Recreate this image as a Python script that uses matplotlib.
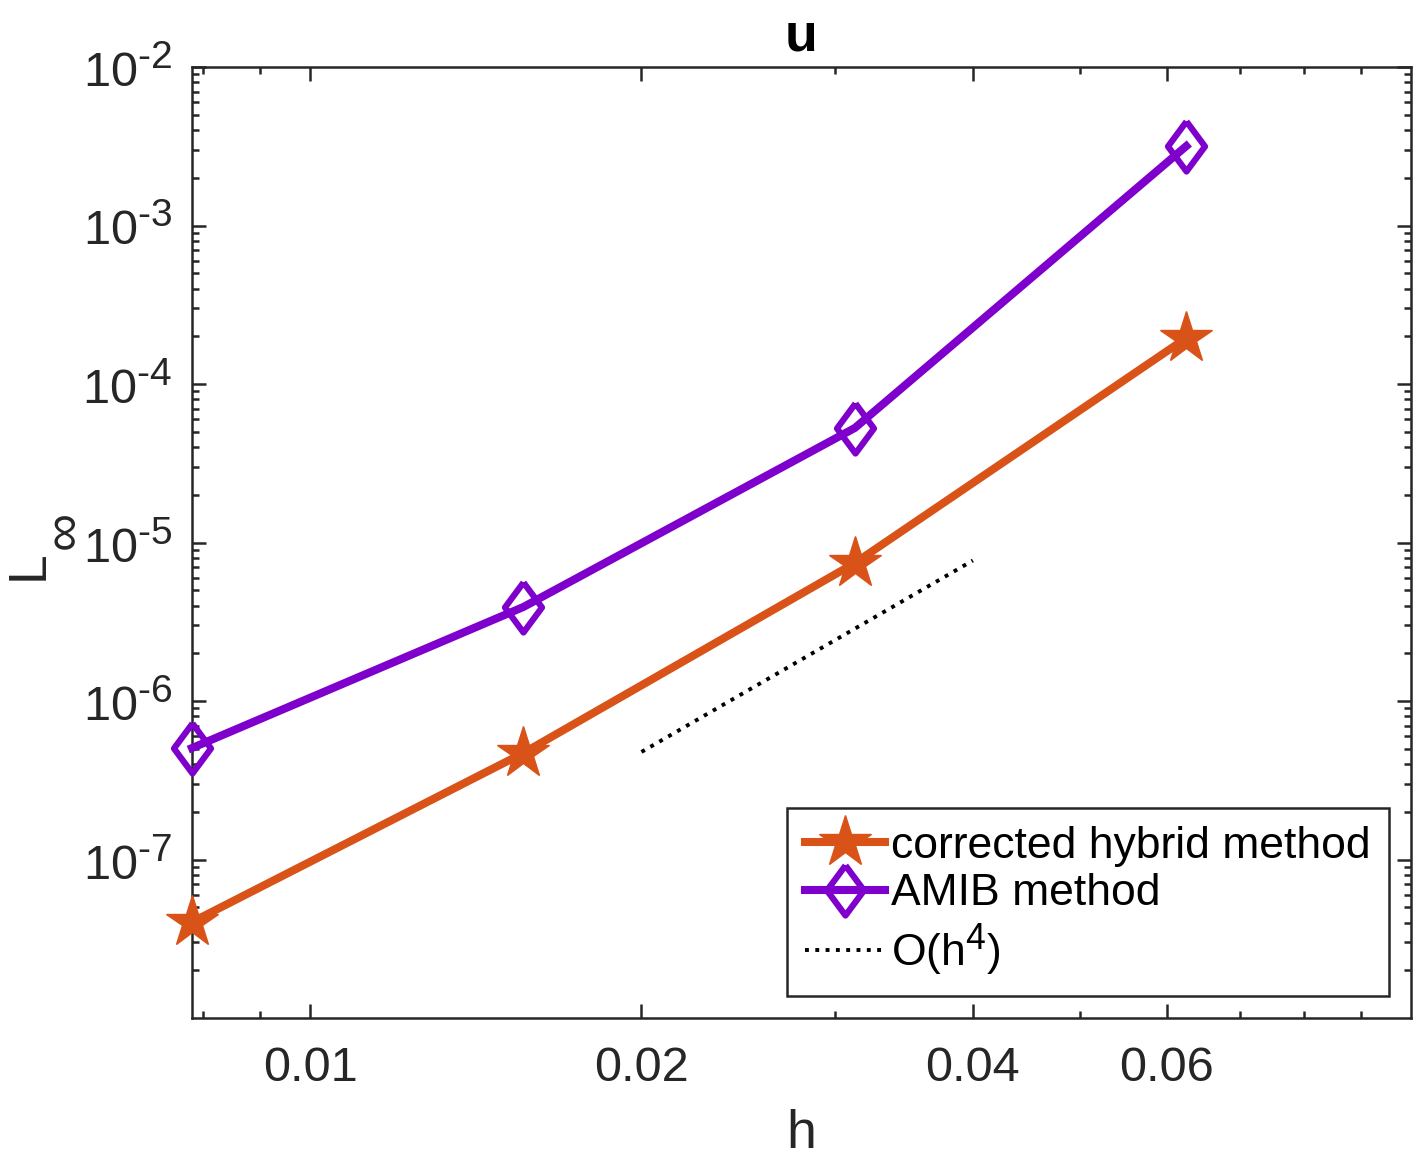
import matplotlib
matplotlib.use("Agg")
import matplotlib.pyplot as plt
import matplotlib._mathtext as _mt
from matplotlib.ticker import FixedLocator, NullFormatter, FixedFormatter

_mt.SHRINK_FACTOR = 0.8

plt.rcParams['font.family'] = ['Liberation Sans', 'DejaVu Sans']
plt.rcParams['mathtext.fontset'] = 'custom'
plt.rcParams['mathtext.rm'] = 'Liberation Sans'
plt.rcParams['mathtext.it'] = 'Liberation Sans:italic'
plt.rcParams['mathtext.bf'] = 'Liberation Sans:bold'
plt.rcParams['mathtext.default'] = 'regular'

# data
h = [0.0078125, 0.015625, 0.03125, 0.0625]
corrected = [4.03e-8, 4.7e-7, 7.42e-6, 1.95e-4]
amib = [5.05e-7, 3.92e-6, 5.28e-5, 3.17e-3]
ref_h = [0.02, 0.04]
ref_vals = [4.77e-7, 7.7e-6]
xticks = [0.01, 0.02, 0.04, 0.06]
xticklabels = ['0.01', '0.02', '0.04', '0.06']
xminor = [0.008, 0.009, 0.03, 0.05, 0.07, 0.08, 0.09]
yexps = [-7, -6, -5, -4, -3, -2]
yticks = [10.0 ** e for e in yexps]
yticklabels = [r'$10^{\text{-%d}}$' % (-e) for e in yexps]
yminor = [m * 10.0 ** e for e in range(-8, -2) for m in range(2, 10)]

c_orange = '#D95319'
c_purple = '#7F00CC'
c_ax = '#262626'

W, H = 1424, 1161
fig = plt.figure(figsize=(W / 100, H / 100), dpi=100)
ax = fig.add_axes([192/W, 1 - 1018/H, (1411-192)/W, (1018-67)/H])

diamond = [(0, 1), (0.74, 0), (0, -1), (-0.74, 0), (0, 1)]

ax.plot(h, corrected, color=c_orange, lw=5.8, marker='*', ms=39,
        mfc=c_orange, mec=c_orange, mew=1, label='corrected hybrid method',
        clip_on=False, zorder=3)
ax.plot(h, amib, color=c_purple, lw=5.8, marker=diamond, ms=36,
        mfc='none', mec=c_purple, mew=4.5, label='AMIB method',
        clip_on=False, zorder=3)
ax.plot(ref_h, ref_vals, color='black', lw=2.8, ls=':', label='O(h$^{4}$)')

ax.set_xscale('log')
ax.set_yscale('log')
ax.set_xlim(0.0078125, 0.1)
ax.set_ylim(1e-8, 1e-2)

ax.xaxis.set_major_locator(FixedLocator(xticks))
ax.xaxis.set_major_formatter(FixedFormatter(xticklabels))
ax.xaxis.set_minor_locator(FixedLocator(xminor))
ax.xaxis.set_minor_formatter(NullFormatter())
ax.yaxis.set_major_locator(FixedLocator(yticks))
ax.yaxis.set_major_formatter(FixedFormatter(yticklabels))
ax.yaxis.set_minor_locator(FixedLocator(yminor))
ax.yaxis.set_minor_formatter(NullFormatter())

for s in ax.spines.values():
    s.set_color(c_ax)
    s.set_linewidth(1.8)

ax.tick_params(which='both', direction='in', top=True, right=True,
               colors=c_ax, width=1.8)
ax.tick_params(which='major', length=10, labelsize=35)
ax.tick_params(which='minor', length=5)
ax.tick_params(axis='x', which='major', pad=20)
ax.tick_params(axis='y', which='major', pad=14)

ax.set_title('u', fontsize=38.5, fontweight='bold', pad=12)
ax.set_xlabel('h', fontsize=38.5, color=c_ax, labelpad=13)

# y label: "L" with a large subscript infinity
ax.set_ylabel('L', fontsize=38.5, color=c_ax, va='baseline')
ax.yaxis.set_label_coords((43 - 192) / (1411 - 192), (1018 - 565) / (1018 - 67))
fig.text(79 / W, 1 - 529.5 / H, '\u221e', fontsize=38.5, color=c_ax,
         rotation=90, rotation_mode='anchor', ha='center', va='baseline')

leg = ax.legend(loc='lower right', fontsize=32, numpoints=1, fancybox=False,
                edgecolor=c_ax, framealpha=1, handlelength=1.8,
                handletextpad=0.15, borderpad=0.4, labelspacing=0.15,
                borderaxespad=0.5)
leg.get_frame().set_linewidth(1.8)

fig.savefig('out.png', dpi=100)
